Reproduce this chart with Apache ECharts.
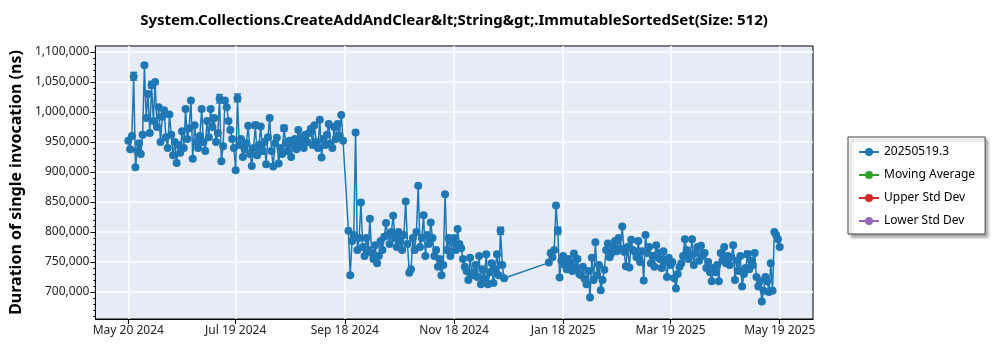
<!DOCTYPE html>
<html>
<head>
<meta charset="utf-8">
<script src="https://cdn.jsdelivr.net/npm/echarts@6/dist/echarts.min.js"></script>
<style>
  html, body { margin: 0; padding: 0; background: #ffffff; }
  #chart { width: 1000px; height: 350px; }
</style>
</head>
<body>
<div id="chart"></div>
<script>
// Benchmark run history: one measurement per day starting at firstDay.
// Values are in microseconds (converted to ns for plotting); null = no run that day.
const firstDay = '2024-05-20';
const dailyDurationsUs = [
  // May 20 – Jun 28 2024
  952, 938, 960, 1059, 908, 935, 948, 930, 962, 1078,
  990, 1030, 965, 1045, 985, 1050, 975, 1008, 950, 992,
  1003, 958, 940, 996, 962, 928, 950, 915, 945, 932,
  968, 940, 1005, 955, 973, 1019, 922, 978, 950, 940,
  // Jun 29 – Aug 7
  960, 1005, 950, 935, 985, 958, 1005, 975, 990, 950,
  965, 1022, 918, 943, 1019, 1008, 985, 970, 955, 940,
  903, 1023, 945, 955, 925, 938, 948, 977, 930, 910,
  940, 978, 928, 945, 976, 935, 950, 913, 958, 990,
  // Aug 8 – Sep 16
  935, 909, 948, 957, 914, 940, 930, 973, 948, 935,
  952, 925, 945, 955, 938, 970, 948, 958, 940, 962,
  950, 965, 972, 945, 978, 950, 940, 987, 924, 955,
  945, 962, 980, 948, 940, 975, 955, 980, 960, 995,
  // Sep 17 – Oct 26
  952, null, null, 802, 728, 785, 795, 966, 770, 790,
  849, 775, 760, 790, 770, 822, 765, 755, 778, 748,
  760, 785, 770, 792, 815, 795, 780, 800, 827, 790,
  775, 800, 785, 770, 795, 851, 780, 732, 738, 790,
  // Oct 27 – Dec 5
  770, 800, 877, 775, 790, 828, 760, 795, 780, 816,
  790, 760, 770, 742, 755, 728, 745, 863, 770, 790,
  760, 782, 790, 770, 805, 780, 773, 755, 742, 735,
  720, 757, 728, 733, 745, 725, 760, 713, 738, 722,
  // Dec 6 – Jan 14 2025
  763, 713, 733, 748, 715, 738, 763, 728, 802, 745,
  723, null, null, null, null, null, null, null, null, null,
  null, null, null, null, null, null, null, null, null, null,
  null, null, null, null, null, 749, 765, 758, 770, 844,
  // Jan 15 – Feb 23
  802, 724, 752, 760, 745, 738, 755, 748, 735, 764,
  740, 755, 730, 728, 742, 722, 713, 735, 691, 757,
  720, 783, 728, 745, 703, 720, 737, 770, 781, 758,
  765, 775, 785, 768, 790, 772, 809, 767, 743, 775,
  // Feb 24 – Apr 4
  741, 787, 770, 767, 758, 785, 750, 768, 719, 795,
  765, 775, 748, 760, 742, 778, 765, 755, 740, 768,
  750, 725, 757, 745, 750, 723, 706, 730, 742, 748,
  760, 788, 770, 755, 762, 788, 745, 765, 775, 752,
  // Apr 5 – May 19
  777, 760, 765, 740, 750, 733, 718, 740, 733, 745,
  718, 765, 752, 775, 748, 760, 745, 758, 778, 720,
  752, 735, 760, 709, 730, 740, 763, 738, 752, 745,
  765, 725, 709, 718, 684, 702, 725, 718, 700, 748,
  702, 800, 795, 788, 775
];

// Spread of selected runs: [day index, low µs, high µs]
const errorBars = [
  [3, 1053, 1066],
  [13, 1040, 1051],
  [51, 1015, 1029],
  [61, 1017, 1030],
  [71, 973, 983],
  [87, 968, 978],
  [208, 796, 808],
  [240, 796, 808],
  [346, 758, 768]
];

const xTickDates = ['2024-05-20', '2024-07-19', '2024-09-18', '2024-11-18', '2025-01-18', '2025-03-19', '2025-05-19'];
const yTickValues = [700000, 750000, 800000, 850000, 900000, 950000, 1000000, 1050000, 1100000];
const yMinorTickValues = [
  660000, 670000, 680000, 690000, 710000, 720000, 730000, 740000,
  760000, 770000, 780000, 790000, 810000, 820000, 830000, 840000,
  860000, 870000, 880000, 890000, 910000, 920000, 930000, 940000,
  960000, 970000, 980000, 990000, 1010000, 1020000, 1030000, 1040000,
  1060000, 1070000, 1080000, 1090000
];

const seriesName = '20250519.3';
const legendNames = ['20250519.3', 'Moving Average', 'Upper Std Dev', 'Lower Std Dev'];
const legendColors = ['#1f77b4', '#2ca02c', '#d62728', '#9467bd'];

const DAY = 86400000;
const t0 = Date.parse(firstDay);
const MONTHS = ['Jan', 'Feb', 'Mar', 'Apr', 'May', 'Jun', 'Jul', 'Aug', 'Sep', 'Oct', 'Nov', 'Dec'];
function fmtDate(ms) {
  const d = new Date(ms);
  return MONTHS[d.getUTCMonth()] + ' ' + d.getUTCDate() + ' ' + d.getUTCFullYear();
}

const points = [];
dailyDurationsUs.forEach((v, i) => {
  if (v !== null) points.push([t0 + i * DAY, v * 1000]);
});
const bars = errorBars.map(([i, lo, hi]) => [t0 + i * DAY, lo * 1000, hi * 1000]);

const xTicks = xTickDates.map(s => Date.parse(s));
const xMin = xTicks[0] - 18.4 * DAY;
const xMax = xTicks[xTicks.length - 1] + 18.6 * DAY;
const Y_MIN = 655000, Y_MAX = 1110000;

const FONT = 'Noto Sans';
const chart = echarts.init(document.getElementById('chart'), null, { renderer: 'canvas' });

const emptySeries = legendNames.slice(1).map((name, k) => ({
  name: name,
  type: 'line',
  data: [],
  symbol: 'circle',
  symbolSize: 6,
  color: legendColors[k + 1],
  lineStyle: { width: 1.5 }
}));

chart.setOption({
  animation: false,
  backgroundColor: '#ffffff',
  title: {
    text: 'System.Collections.CreateAddAndClear&lt;String&gt;.ImmutableSortedSet(Size: 512)',
    left: 449,
    textAlign: 'center',
    top: 8,
    textStyle: { fontFamily: FONT, fontSize: 15, fontWeight: 'bold', color: '#000' }
  },
  legend: {
    data: legendNames,
    orient: 'vertical',
    left: 848,
    top: 137,
    padding: [9, 10, 7, 10],
    itemGap: 11,
    itemWidth: 20,
    itemHeight: 10,
    textStyle: { fontFamily: FONT, fontSize: 12, color: '#000' },
    backgroundColor: '#ffffff',
    borderColor: '#444444',
    borderWidth: 1,
    borderRadius: 0,
    shadowColor: 'rgba(0,0,0,0.35)',
    shadowBlur: 3,
    shadowOffsetX: 3,
    shadowOffsetY: 3
  },
  grid: {
    left: 85, right: 187, top: 46, bottom: 31,
    show: true,
    backgroundColor: '#e5ecf6',
    borderColor: '#000',
    borderWidth: 1
  },
  xAxis: {
    type: 'value',
    min: xMin,
    max: xMax,
    axisLine: { lineStyle: { color: '#000', width: 1 } },
    axisTick: { show: true, customValues: xTicks, length: 5, lineStyle: { color: '#000' } },
    axisLabel: {
      customValues: xTicks,
      formatter: v => fmtDate(v),
      fontFamily: FONT, fontSize: 12, color: '#222', margin: 6
    },
    splitLine: { show: true, lineStyle: { color: '#ffffff', width: 1.5 } }
  },
  yAxis: [
    {
      type: 'value',
      min: Y_MIN,
      max: Y_MAX,
      name: 'Duration of single invocation (ns)',
      nameLocation: 'middle',
      nameGap: 64,
      nameTextStyle: { fontFamily: FONT, fontSize: 16, fontWeight: 'bold', color: '#000' },
      axisLine: { show: true, lineStyle: { color: '#000', width: 1 } },
      axisTick: { show: true, customValues: yTickValues, length: 5, lineStyle: { color: '#000' } },
      axisLabel: {
        customValues: yTickValues,
        formatter: v => v.toLocaleString('en-US'),
        fontFamily: FONT, fontSize: 12, color: '#222', margin: 6
      },
      splitLine: { show: true, lineStyle: { color: '#ffffff', width: 1.5 } }
    },
    {
      // minor tick marks along the value axis
      type: 'value',
      min: Y_MIN,
      max: Y_MAX,
      position: 'left',
      axisLine: { show: false },
      axisTick: { show: true, customValues: yMinorTickValues, length: 2, lineStyle: { color: '#000' } },
      axisLabel: { show: false },
      splitLine: { show: false }
    }
  ],
  series: [
    {
      name: seriesName,
      type: 'line',
      data: points,
      symbol: 'circle',
      symbolSize: 8,
      color: legendColors[0],
      lineStyle: { width: 1.5 },
      z: 3
    },
    {
      type: 'custom',
      data: bars,
      z: 4,
      renderItem: (params, api) => {
        const top = api.coord([api.value(0), api.value(2)]);
        const bot = api.coord([api.value(0), api.value(1)]);
        const w = 3.5;
        const style = { stroke: legendColors[0], lineWidth: 1.5 };
        return {
          type: 'group',
          children: [
            { type: 'line', shape: { x1: top[0], y1: top[1], x2: bot[0], y2: bot[1] }, style },
            { type: 'line', shape: { x1: top[0] - w, y1: top[1], x2: top[0] + w, y2: top[1] }, style },
            { type: 'line', shape: { x1: bot[0] - w, y1: bot[1], x2: bot[0] + w, y2: bot[1] }, style }
          ]
        };
      }
    },
    ...emptySeries
  ]
});
</script>
</body>
</html>
